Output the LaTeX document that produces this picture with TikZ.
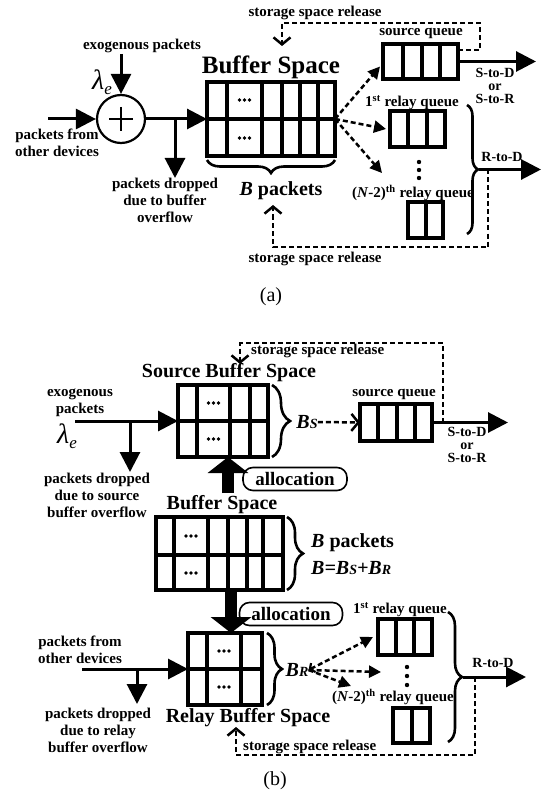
\documentclass[tikz,border=0pt]{standalone}
\usepackage{fontspec}
\setmainfont{Liberation Serif}
\usetikzlibrary{arrows.meta,decorations.pathreplacing,calc}
\begin{document}
\begin{tikzpicture}[x=1pt,y=-1pt,
  lbl/.style={font=\fontsize{15}{17}\selectfont\bfseries, align=center, inner sep=0pt},
  sm/.style={font=\fontsize{14}{13}\selectfont\bfseries, align=center, inner sep=0pt},
  ttlA/.style={font=\fontsize{25}{28}\selectfont\bfseries, inner sep=0pt},
  ttl/.style={font=\fontsize{20}{22}\selectfont\bfseries, inner sep=0pt},
  gbox/.style={draw, line width=3.5pt, inner sep=0pt, outer sep=0pt},
  gl/.style={line width=3.2pt},
  arr/.style={line width=3pt, -{Triangle[length=20pt,width=20pt]}},
  dsh/.style={line width=2.5pt, dash pattern=on 5pt off 3pt},
  darr/.style={dsh, -{Triangle[length=12pt,width=12pt]}},
  chev/.style={dsh, -{Straight Barb[length=7pt,width=17pt,line width=2.5pt]}},
  brc/.style={decorate, decoration={brace, amplitude=#1}, line width=2.6pt},
  fat/.style={line width=12pt, -{Triangle[length=16pt,width=40pt]}},
  alloc/.style={draw, line width=1.6pt, rounded corners=10pt, minimum height=23pt, inner sep=0pt, font=\fontsize{19}{20}\selectfont\bfseries},
  lam/.style={font=\fontsize{28}{28}\selectfont, inner sep=0pt},
  captxt/.style={font=\fontsize{20}{22}\selectfont, inner sep=0pt}
]
\useasboundingbox (0,0) rectangle (542,802);

% ================= (a) =================
\node[circle, draw, line width=2.2pt, minimum size=48pt, inner sep=0pt] (add) at (121,119) {};
\draw[line width=2.2pt] (109,119) -- (133,119) (121,107) -- (121,131);
\node[lbl] (exoA) at (142,46) {exogenous packets};
\node[lam] (lamA) at (102,82) {\textit{λ}\raisebox{-5pt}{\fontsize{17}{17}\selectfont\textit{e}}};
\coordinate (exoStartA) at (121,54);
\draw[arr] (exoStartA) -- (add.north);
\coordinate (inA) at (48,119);
\draw[arr] (inA) -- (add.west);
\node[lbl] (othA) at (57,143) {packets from\\other devices};

\node[gbox, minimum width=128pt, minimum height=74pt] (bufA) at (271,119) {};
\foreach \x in {227,262,282,300,318} \draw[gl] (\x,82) -- (\x,156);
\draw[gl] (bufA.west) -- (bufA.east);
\foreach \y in {100,138} \foreach \dx in {-5,0,5} \fill (244.5+\dx,\y) circle[radius=1.9pt];
\node[ttlA] (ttlA) at (271,67) {Buffer Space};

\draw[arr] (add.east) -- (bufA.west);
\coordinate (brA) at (175,119);
\coordinate (dropTipA) at (175,178);
\draw[arr] (brA) -- (dropTipA);
\node[lbl] (dropA) at (165,200) {packets dropped\\due to buffer\\overflow};

\draw[brc=13pt] ($(bufA.south east)+(0,4)$) -- ($(bufA.south west)+(0,4)$);
\node[ttl] (bpA) at (281,191) {\textit{B} packets};

% source queue (a)
\node[gbox, minimum width=75pt, minimum height=35pt] (sqA) at (420.5,61.5) {};
\foreach \x in {403,422,440} \draw[gl] (\x,44) -- (\x,79);
\node[lbl] (sqlA) at (421,33) {source queue};
\coordinate (outA) at (536,61.5);
\draw[arr] (sqA.east) -- (outA);
\node[sm] (sdA) at (495,86) {S-to-D\\or\\S-to-R};

% top release (a)
\coordinate (chevTopA) at (282,46);
\draw[chev] ($(sqA.north east)+(0,6)$) -- ++(22,0) |- (282,23) -- (chevTopA);
\node[lbl] (relTopA) at (315,13) {storage space release};

% relay queues (a)
\node[gbox, minimum width=55pt, minimum height=36pt] (rq1A) at (417.5,129) {};
\foreach \x in {408,427} \draw[gl] (\x,111) -- (\x,147);
\node[lbl] (rq1lA) at (412,103) {1\textsuperscript{st} relay queue};
\foreach \y in {162,170,178} \fill (419,\y) circle[radius=2.2pt];
\node[lbl] (rq2lA) at (413,193) {(\textit{N}-2)\textsuperscript{th} relay queue};
\node[gbox, minimum width=35pt, minimum height=36pt] (rq2A) at (425.5,220) {};
\draw[gl] (426,202) -- (426,238);

\draw[brc=11pt] (467,105) -- (467,234);
\coordinate (rtipA) at (479,169.5);
\coordinate (rendA) at (541,169.5);
\draw[arr] (rtipA) -- (rendA);
\node[sm] (rdA) at (502,157) {R-to-D};

% bottom release (a)
\coordinate (relJA) at (488,169.5);
\coordinate (chevBotA) at (273,205);
\draw[chev] (relJA) -- (488,247) -| (chevBotA);
\node[lbl] (relBotA) at (315,259) {storage space release};

% dashed dispatch (a)
\coordinate (t3A) at (382,173);
\draw[darr] (bufA.east) -- ($(sqA.west)+(-3,5)$);
\draw[darr] (bufA.east) -- ($(rq1A.west)+(-4,0)$);
\draw[darr] (bufA.east) -- (t3A);

\node[captxt] (capA) at (271,297) {(a)};

% ================= (b) =================
% source buffer
\node[gbox, minimum width=90pt, minimum height=72pt] (srcB) at (223,421) {};
\foreach \x in {197,230,250} \draw[gl] (\x,385) -- (\x,457);
\draw[gl] (srcB.west) -- (srcB.east);
\foreach \y in {403,439} \foreach \dx in {-5,0,5} \fill (213.5+\dx,\y) circle[radius=1.9pt];
\node[ttl] (srcT) at (229,373) {Source Buffer Space};
\draw[brc=18pt] (272,385) -- (272,457);
\node[ttl] (bsB) at (307,422) {\textit{B\fontsize{14}{14}\selectfont S}};

% source queue (b)
\node[gbox, minimum width=72pt, minimum height=37pt] (sqB) at (396,422.5) {};
\foreach \x in {378,397,415} \draw[gl] (\x,404) -- (\x,441);
\node[lbl] (sqlB) at (394,394) {source queue};
\draw[chev] (bsB.east) -- (sqB.west);
\coordinate (outB) at (508,422.5);
\draw[arr] (sqB.east) -- (outB);
\node[sm] (sdB) at (467,445) {S-to-D\\or\\S-to-R};

% top release (b)
\coordinate (relJB) at (443,422.5);
\coordinate (chevTopB) at (240,364);
\draw[chev] (relJB) -- (443,343) -| (chevTopB);
\node[lbl, anchor=west] (relTopB) at (251,351) {storage space release};

% exogenous (b)
\node[lbl] (exoB) at (80,403) {exogenous\\packets};
\node[lam] (lamB) at (67,436) {\textit{λ}\raisebox{-5pt}{\fontsize{17}{17}\selectfont\textit{e}}};
\coordinate (inB) at (75,421);
\draw[arr] (inB) -- (srcB.west);
\coordinate (brB1) at (130,421);
\coordinate (dropTipB1) at (130,472);
\draw[arr] (brB1) -- (dropTipB1);
\node[lbl] (dropB1) at (97,495) {packets dropped\\due to source\\buffer overflow};

% up allocation
\coordinate (upS) at (228,493);
\draw[fat] (upS) -- (upS |- srcB.south);
\node[alloc, minimum width=104pt] (allocU) at (295,479) {allocation};

% middle buffer
\node[ttl] (midT) at (222,505) {Buffer Space};
\node[gbox, minimum width=127pt, minimum height=73pt] (midB) at (219.5,553.5) {};
\foreach \x in {174,208,228,247,263} \draw[gl] (\x,517) -- (\x,590);
\draw[gl] (156,555) -- (283,555);
\foreach \y in {536,573} \foreach \dx in {-5,0,5} \fill (191+\dx,\y) circle[radius=1.9pt];
\draw[brc=16pt] (287,517) -- (287,590);
\node[ttl, anchor=west] (bpB) at (311,543) {\textit{B} packets};
\node[ttl, anchor=west] (beqB) at (311,568) {\textit{B=B{\fontsize{14}{14}\selectfont S}+B{\fontsize{14}{14}\selectfont R}}};

% down allocation
\coordinate (dnS) at (231,590);
\node[gbox, minimum width=74pt, minimum height=72pt] (relB) at (225,669) {};
\draw[fat] (dnS) -- (dnS |- relB.north);
\node[alloc, minimum width=103pt] (allocD) at (291,614) {allocation};

% relay buffer
\foreach \x in {207,241} \draw[gl] (\x,633) -- (\x,705);
\draw[gl] (relB.west) -- (relB.east);
\foreach \y in {651,687} \foreach \dx in {-5,0,5} \fill (224+\dx,\y) circle[radius=1.9pt];
\node[ttl] (relT) at (248,718) {Relay Buffer Space};
\draw[brc=15pt] (267,633) -- (267,705);
\node[ttl] (brB) at (297,670) {\textit{B\fontsize{14}{14}\selectfont R}};

% input (b) relay
\node[lbl] (othB) at (80,650) {packets from\\other devices};
\coordinate (inB2) at (82,669);
\draw[arr] (inB2) -- (relB.west);
\coordinate (brB2) at (137,669);
\coordinate (dropTipB2) at (137,704);
\draw[arr] (brB2) -- (dropTipB2);
\node[lbl] (dropB2) at (98,730) {packets dropped\\due to relay\\buffer overflow};

% relay queues (b)
\node[gbox, minimum width=54pt, minimum height=36pt] (rq1B) at (405,637) {};
\foreach \x in {396,414} \draw[gl] (\x,619) -- (\x,655);
\node[lbl] (rq1lB) at (400,610) {1\textsuperscript{st} relay queue};
\foreach \y in {667,676,685} \fill (407,\y) circle[radius=2.2pt];
\node[lbl] (rq2lB) at (393,697) {(\textit{N}-2)\textsuperscript{th} relay queue};
\node[gbox, minimum width=37pt, minimum height=35pt] (rq2B) at (411.5,725.5) {};
\draw[gl] (412,708) -- (412,743);

\draw[brc=14pt] (448,612) -- (448,742);
\coordinate (rtipB) at (463,677);
\coordinate (rendB) at (526,677);
\draw[arr] (rtipB) -- (rendB);
\node[sm] (rdB) at (493,663) {R-to-D};

% bottom release (b)
\coordinate (relJB2) at (475,677);
\coordinate (chevBotB) at (236,727);
\draw[chev] (relJB2) -- (475,755) -| (chevBotB);
\node[lbl, anchor=west] (relBotB) at (243,747) {storage space release};

% dashed dispatch (b)
\coordinate (t1B) at (373,637);
\coordinate (t2B) at (381,672);
\coordinate (t3B) at (351,686);
\draw[dsh, {Straight Barb[length=4pt,width=10pt,line width=2.2pt]}-{Triangle[length=12pt,width=12pt]}] (brB.east) -- (t1B);
\draw[darr] (brB.east) -- (t2B);
\draw[darr] (brB.east) -- (t3B);

\node[captxt] (capB) at (275,781) {(b)};
\end{tikzpicture}
\end{document}
